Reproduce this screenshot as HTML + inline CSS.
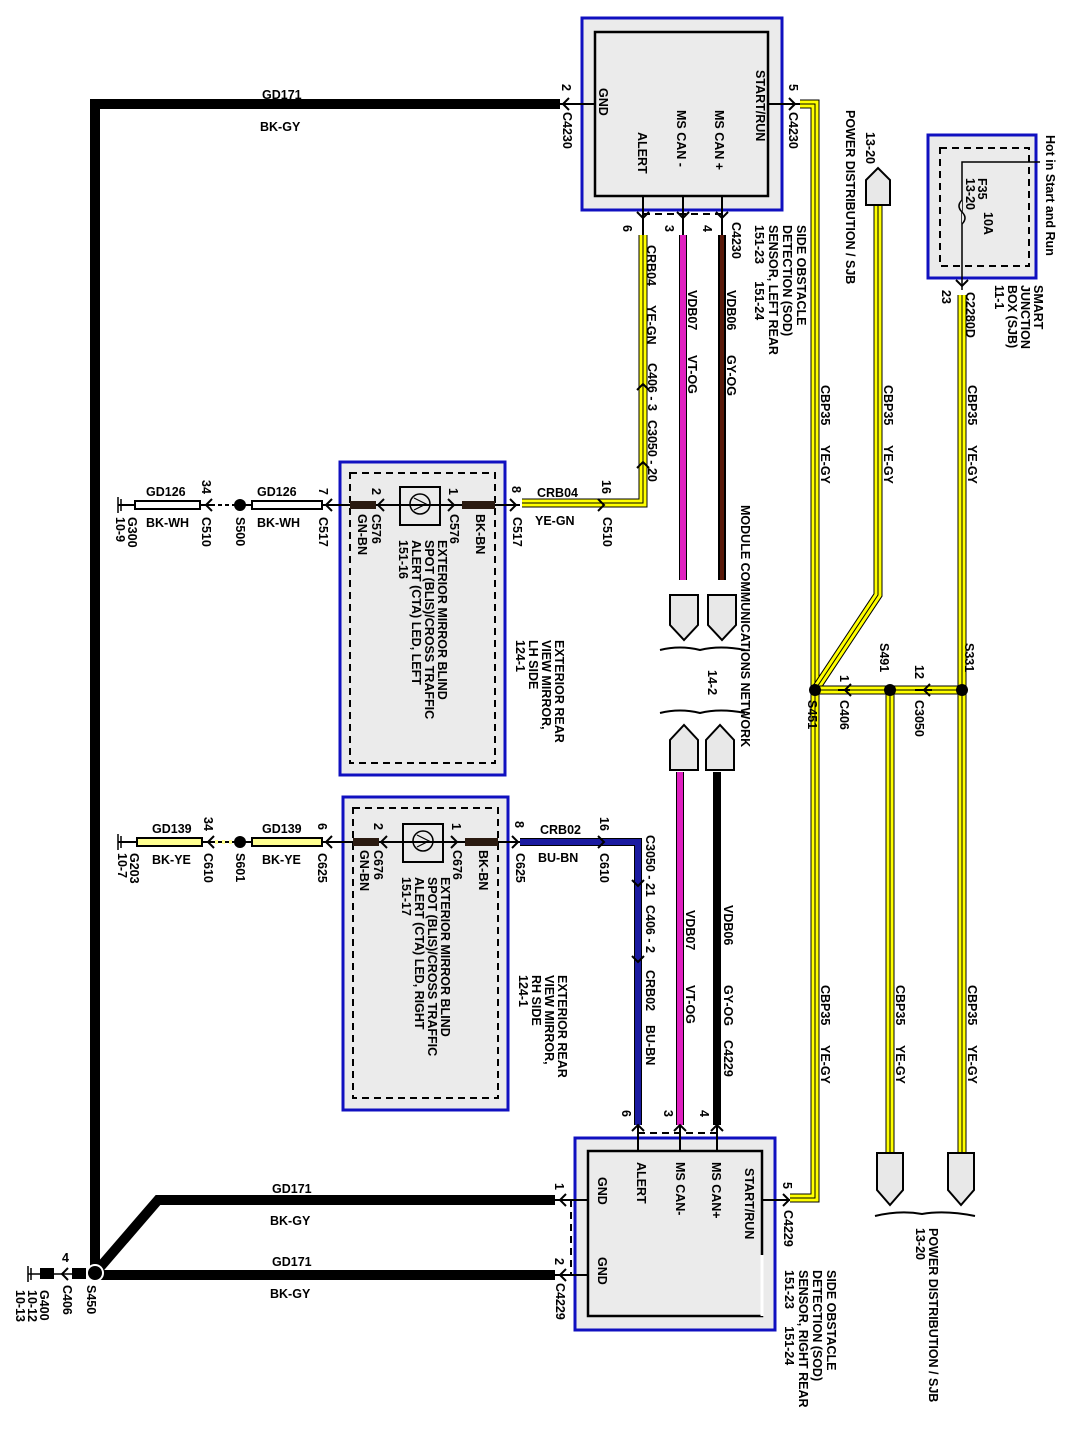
<!DOCTYPE html>
<html><head><meta charset="utf-8"><style>
html,body{margin:0;padding:0;background:#fff}
svg{display:block}
text{font-family:"Liberation Sans",Arial,sans-serif;font-size:12.5px;fill:#000;font-weight:bold}
.n{font-weight:bold}
.yo{stroke:#000;stroke-width:9;fill:none}
.yf{stroke:#ffff00;stroke-width:7;fill:none}
.yc{stroke:#000;stroke-width:1;fill:none}
.bk{stroke:#000;fill:none}
.box{fill:#ebebeb;stroke:#1010c0;stroke-width:3}
.ibox{fill:#ebebeb;stroke:#000;stroke-width:2.5}
.dash{fill:none;stroke:#000;stroke-width:2;stroke-dasharray:7 5}
.conn{fill:#e8e8e8;stroke:#000;stroke-width:2}
</style></head><body>
<svg width="1067" height="1445" viewBox="0 0 1067 1445" xmlns="http://www.w3.org/2000/svg">

<!-- Main ground wire -->
<path d="M560,104 H95 V1273" class="bk" stroke-width="10"/>
<path d="M555,1200 H158 L95,1273" class="bk" stroke-width="10"/>
<path d="M555,1275 H95" class="bk" stroke-width="10"/>
<circle cx="95" cy="1273" r="8" fill="#000" stroke="#fff" stroke-width="2"/>
<rect x="72" y="1268" width="14" height="11" fill="#000"/>
<line x1="40" y1="1274" x2="75" y2="1274" class="bk" stroke-width="1.5"/>
<rect x="40" y="1268" width="14" height="11" fill="#000"/>
<polyline points="68,1268 62,1274 68,1280" class="bk" stroke-width="2"/>
<line x1="28" y1="1266" x2="28" y2="1282" class="bk" stroke-width="1.5"/>
<line x1="31" y1="1268" x2="31" y2="1280" class="bk" stroke-width="1.5"/>
<line x1="28" y1="1274" x2="40" y2="1274" class="bk" stroke-width="1.5"/>
<text x="62" y="1262" class="n" font-size="11">4</text>
<text transform="translate(87,1285) rotate(90)" class="n">S450</text>
<text transform="translate(63,1285) rotate(90)" class="n">C406</text>
<text transform="translate(40,1290) rotate(90)" class="n" font-size="11">G400</text>
<text transform="translate(28,1290) rotate(90)" class="n" font-size="11">10-12</text>
<text transform="translate(16,1290) rotate(90)" class="n" font-size="11">10-13</text>

<text x="262" y="99" class="n">GD171</text><text x="260" y="131" class="n">BK-GY</text>
<text x="272" y="1193" class="n">GD171</text><text x="270" y="1225" class="n">BK-GY</text>
<text x="272" y="1266" class="n">GD171</text><text x="270" y="1298" class="n">BK-GY</text>

<!-- Top module -->
<rect x="582" y="18" width="200" height="192" class="box"/>
<rect x="595" y="32" width="173" height="164" class="ibox"/>
<text transform="translate(599,88) rotate(90)" font-size="13">GND</text>
<text transform="translate(756,70) rotate(90)" font-size="13">START/RUN</text>
<text transform="translate(715,110) rotate(90)" font-size="13">MS CAN +</text>
<text transform="translate(677,110) rotate(90)" font-size="13">MS CAN -</text>
<text transform="translate(638,132) rotate(90)" font-size="13">ALERT</text>
<line x1="595" y1="104" x2="560" y2="104" class="bk" stroke-width="2"/>
<polyline points="569,98 563,104 569,110" class="bk" stroke-width="2"/>
<text transform="translate(562,84) rotate(90)" class="n">2</text>
<text transform="translate(563,112) rotate(90)" class="n">C4230</text>
<line x1="768" y1="104" x2="805" y2="104" class="bk" stroke-width="2"/>
<polyline points="789,98 795,104 789,110" class="bk" stroke-width="2"/>
<text transform="translate(789,84) rotate(90)" class="n">5</text>
<text transform="translate(789,112) rotate(90)" class="n">C4230</text>
<g class="bk" stroke-width="2">
<line x1="643" y1="196" x2="643" y2="235"/><line x1="683" y1="196" x2="683" y2="235"/><line x1="722" y1="196" x2="722" y2="235"/>
<polyline points="637,212 643,218 649,212"/><polyline points="677,212 683,218 689,212"/><polyline points="716,212 722,218 728,212"/>
</g>
<line x1="643" y1="214" x2="722" y2="214" class="dash" stroke-width="2.5"/>
<text transform="translate(623,225) rotate(90)" class="n">6</text>
<text transform="translate(665,225) rotate(90)" class="n">3</text>
<text transform="translate(703,225) rotate(90)" class="n">4</text>
<text transform="translate(732,222) rotate(90)" class="n">C4230</text>
<text transform="translate(797,225) rotate(90)" class="n">SIDE OBSTACLE</text>
<text transform="translate(783,225) rotate(90)" class="n">DETECTION (SOD)</text>
<text transform="translate(769,225) rotate(90)" class="n">SENSOR, LEFT REAR</text>
<text transform="translate(755,225) rotate(90)" class="n">151-23&#160;&#160;&#160;&#160;&#160;151-24</text>

<!-- left-rear wires -->
<path d="M643,235 V503 H522" class="yo"/><path d="M643,235 V503 H522" class="yf"/><path d="M643,235 V503 H522" class="yc"/>
<polyline points="637,390 643,384 649,390" class="bk" stroke-width="2"/>
<polyline points="637,468 643,462 649,468" class="bk" stroke-width="2"/>
<line x1="683" y1="235" x2="683" y2="580" stroke="#000" stroke-width="8"/>
<line x1="683" y1="235" x2="683" y2="580" stroke="#e020c0" stroke-width="6"/>
<line x1="722" y1="235" x2="722" y2="580" stroke="#000" stroke-width="8"/>
<line x1="722" y1="235" x2="722" y2="580" stroke="#5a1a0a" stroke-width="4"/>
<text transform="translate(647,245) rotate(90)" class="n">CRB04</text>
<text transform="translate(647,305) rotate(90)" class="n">YE-GN</text>
<text transform="translate(648,363) rotate(90)" class="n">C406 - 3</text>
<text transform="translate(648,420) rotate(90)" class="n">C3050 - 20</text>
<text transform="translate(688,290) rotate(90)" class="n">VDB07</text>
<text transform="translate(688,355) rotate(90)" class="n">VT-OG</text>
<text transform="translate(727,290) rotate(90)" class="n">VDB06</text>
<text transform="translate(727,355) rotate(90)" class="n">GY-OG</text>

<!-- module comm network -->
<path d="M670,595 H698 V625 L684,640 L670,625 Z" class="conn"/>
<path d="M708,595 H736 V625 L722,640 L708,625 Z" class="conn"/>
<path d="M660,650 Q680,645 700,650 Q720,645 745,650" class="bk" stroke-width="2"/>
<text transform="translate(708,670) rotate(90)" class="n">14-2</text>
<path d="M660,713 Q680,708 700,713 Q720,708 745,713" class="bk" stroke-width="2"/>
<path d="M670,770 H698 V740 L684,725 L670,740 Z" class="conn"/>
<path d="M706,770 H734 V740 L720,725 L706,740 Z" class="conn"/>
<text transform="translate(741,505) rotate(90)" class="n">MODULE COMMUNICATIONS NETWORK</text>

<line x1="680" y1="772" x2="680" y2="1125" stroke="#000" stroke-width="8"/>
<line x1="680" y1="772" x2="680" y2="1125" stroke="#e020c0" stroke-width="6"/>
<line x1="717" y1="772" x2="717" y2="1125" stroke="#000" stroke-width="8"/>
<text transform="translate(686,910) rotate(90)" class="n">VDB07</text>
<text transform="translate(686,985) rotate(90)" class="n">VT-OG</text>
<text transform="translate(724,905) rotate(90)" class="n">VDB06</text>
<text transform="translate(724,985) rotate(90)" class="n">GY-OG</text>
<text transform="translate(724,1040) rotate(90)" class="n">C4229</text>

<!-- blue wire -->
<path d="M520,842 H638 V1125" stroke="#000" stroke-width="8" fill="none"/>
<path d="M520,842 H638 V1125" stroke="#1a1aa0" stroke-width="6" fill="none"/>
<polyline points="632,880 638,886 644,880" stroke="#000" stroke-width="2" fill="none"/>
<polyline points="632,956 638,962 644,956" stroke="#000" stroke-width="2" fill="none"/>
<text transform="translate(646,835) rotate(90)" class="n">C3050 - 21</text>
<text transform="translate(646,905) rotate(90)" class="n">C406 - 2</text>
<text transform="translate(646,970) rotate(90)" class="n">CRB02</text>
<text transform="translate(646,1025) rotate(90)" class="n">BU-BN</text>

<!-- bottom module -->
<rect x="575" y="1138" width="200" height="192" class="box"/>
<rect x="588" y="1151" width="174" height="165" class="ibox"/>
<line x1="762" y1="1255" x2="762" y2="1316" stroke="#fff" stroke-width="3"/>
<text transform="translate(598,1177) rotate(90)" font-size="13">GND</text>
<text transform="translate(598,1257) rotate(90)" font-size="13">GND</text>
<text transform="translate(637,1162) rotate(90)" font-size="13">ALERT</text>
<text transform="translate(676,1162) rotate(90)" font-size="13">MS CAN-</text>
<text transform="translate(712,1162) rotate(90)" font-size="13">MS CAN+</text>
<text transform="translate(745,1168) rotate(90)" font-size="13">START/RUN</text>
<g class="bk" stroke-width="2">
<line x1="638" y1="1125" x2="638" y2="1151"/><line x1="680" y1="1125" x2="680" y2="1151"/><line x1="717" y1="1125" x2="717" y2="1151"/>
<polyline points="632,1131 638,1125 644,1131"/><polyline points="674,1131 680,1125 686,1131"/><polyline points="711,1131 717,1125 723,1131"/>
<line x1="588" y1="1200" x2="555" y2="1200"/><line x1="588" y1="1275" x2="555" y2="1275"/>
<polyline points="566,1194 560,1200 566,1206"/><polyline points="566,1269 560,1275 566,1281"/>
<line x1="762" y1="1200" x2="790" y2="1200"/>
<polyline points="783,1194 789,1200 783,1206"/>
</g>
<line x1="638" y1="1133" x2="717" y2="1133" class="dash"/>
<line x1="571" y1="1200" x2="571" y2="1275" class="dash"/>
<text transform="translate(622,1110) rotate(90)" class="n">6</text>
<text transform="translate(664,1110) rotate(90)" class="n">3</text>
<text transform="translate(700,1110) rotate(90)" class="n">4</text>
<text transform="translate(555,1183) rotate(90)" class="n">1</text>
<text transform="translate(555,1258) rotate(90)" class="n">2</text>
<text transform="translate(556,1283) rotate(90)" class="n">C4229</text>
<text transform="translate(783,1182) rotate(90)" class="n">5</text>
<text transform="translate(784,1210) rotate(90)" class="n">C4229</text>
<text transform="translate(827,1270) rotate(90)" class="n">SIDE OBSTACLE</text>
<text transform="translate(813,1270) rotate(90)" class="n">DETECTION (SOD)</text>
<text transform="translate(799,1270) rotate(90)" class="n">SENSOR, RIGHT REAR</text>
<text transform="translate(785,1270) rotate(90)" class="n">151-23&#160;&#160;&#160;&#160;&#160;151-24</text>

<!-- yellow power wires -->
<g>
<path d="M800,104 H815 V1198 H790" class="yo"/><path d="M800,104 H815 V1198 H790" class="yf"/><path d="M800,104 H815 V1198 H790" class="yc"/>
<path d="M878,205 V595 L815,690" class="yo"/><path d="M878,205 V595 L815,690" class="yf"/><path d="M878,205 V595 L815,690" class="yc"/>
<path d="M962,295 V1153" class="yo"/><path d="M962,295 V1153" class="yf"/><path d="M962,295 V1153" class="yc"/>
<path d="M890,690 V1153" class="yo"/><path d="M890,690 V1153" class="yf"/><path d="M890,690 V1153" class="yc"/>
<path d="M815,690 H962" class="yo"/><path d="M815,690 H962" class="yf"/><path d="M815,690 H962" class="yc"/>
</g>
<line x1="838" y1="690" x2="850" y2="690" stroke="#000" stroke-width="2"/>
<polyline points="851,684 845,690 851,696" class="bk" stroke-width="2"/>
<line x1="915" y1="690" x2="932" y2="690" stroke="#000" stroke-width="2"/>
<polyline points="930,684 924,690 930,696" class="bk" stroke-width="2"/>
<circle cx="815" cy="690" r="6" fill="#000"/>
<circle cx="890" cy="690" r="6" fill="#000"/>
<circle cx="962" cy="690" r="6" fill="#000"/>
<text transform="translate(808,700) rotate(90)" class="n">S451</text>
<text transform="translate(840,675) rotate(90)" class="n">1</text>
<text transform="translate(840,700) rotate(90)" class="n">C406</text>
<text transform="translate(880,643) rotate(90)" class="n">S491</text>
<text transform="translate(915,665) rotate(90)" class="n">12</text>
<text transform="translate(915,700) rotate(90)" class="n">C3050</text>
<text transform="translate(965,643) rotate(90)" class="n">S331</text>

<text transform="translate(821,385) rotate(90)" class="n">CBP35</text>
<text transform="translate(821,445) rotate(90)" class="n">YE-GY</text>
<text transform="translate(884,385) rotate(90)" class="n">CBP35</text>
<text transform="translate(884,445) rotate(90)" class="n">YE-GY</text>
<text transform="translate(968,385) rotate(90)" class="n">CBP35</text>
<text transform="translate(968,445) rotate(90)" class="n">YE-GY</text>
<text transform="translate(821,985) rotate(90)" class="n">CBP35</text>
<text transform="translate(821,1045) rotate(90)" class="n">YE-GY</text>
<text transform="translate(896,985) rotate(90)" class="n">CBP35</text>
<text transform="translate(896,1045) rotate(90)" class="n">YE-GY</text>
<text transform="translate(968,985) rotate(90)" class="n">CBP35</text>
<text transform="translate(968,1045) rotate(90)" class="n">YE-GY</text>

<!-- top power dist -->
<text transform="translate(866,132) rotate(90)" class="n">13-20</text>
<text transform="translate(846,110) rotate(90)" class="n">POWER DISTRIBUTION / SJB</text>
<path d="M866,205 V180 L878,168 L890,180 V205 Z" class="conn"/>

<!-- SJB -->
<rect x="928" y="135" width="108" height="143" class="box"/>
<rect x="940" y="148" width="89" height="118" class="dash"/>
<path d="M1040,162 H962 V290" class="bk" stroke-width="1.5"/>
<path d="M962,200 q-6,6 0,12 q6,6 0,12" fill="#ebebeb" stroke="#000" stroke-width="1.5"/>
<text transform="translate(978,178) rotate(90)" class="n">F35</text>
<text transform="translate(966,178) rotate(90)" class="n">13-20</text>
<text transform="translate(984,212) rotate(90)" class="n">10A</text>
<polyline points="956,280 962,286 968,280" class="bk" stroke-width="2"/>
<text transform="translate(1046,135) rotate(90)" class="n">Hot in Start and Run</text>
<text transform="translate(1034,285) rotate(90)" class="n">SMART</text>
<text transform="translate(1021,285) rotate(90)" class="n">JUNCTION</text>
<text transform="translate(1008,285) rotate(90)" class="n">BOX (SJB)</text>
<text transform="translate(995,285) rotate(90)" class="n">11-1</text>
<text transform="translate(942,290) rotate(90)" class="n">23</text>
<text transform="translate(966,292) rotate(90)" class="n">C2280D</text>

<!-- bottom power dist -->
<path d="M877,1153 H903 V1190 L890,1205 L877,1190 Z" class="conn"/>
<path d="M948,1153 H974 V1190 L961,1205 L948,1190 Z" class="conn"/>
<path d="M875,1216 Q900,1210 922,1214 Q945,1210 975,1216" class="bk" stroke-width="2"/>
<text transform="translate(929,1228) rotate(90)" class="n">POWER DISTRIBUTION / SJB</text>
<text transform="translate(916,1228) rotate(90)" class="n">13-20</text>

<!-- LH mirror -->
<rect x="340" y="462" width="165" height="313" class="box"/>
<rect x="350" y="473" width="145" height="290" class="dash"/>
<line x1="118" y1="505" x2="520" y2="505" class="bk" stroke-width="2"/>
<rect x="135" y="501" width="65" height="8" fill="#fff" stroke="#000" stroke-width="2"/>
<rect x="252" y="501" width="70" height="8" fill="#fff" stroke="#000" stroke-width="2"/>
<line x1="215" y1="505" x2="235" y2="505" stroke="#fff" stroke-width="4" stroke-dasharray="3 4"/>
<circle cx="240" cy="505" r="6" fill="#000"/>
<rect x="350" y="501" width="26" height="8" fill="#2a1a10"/>
<rect x="462" y="501" width="33" height="8" fill="#2a1a10"/>
<rect x="400" y="487" width="40" height="38" fill="none" stroke="#000" stroke-width="2"/>
<circle cx="420" cy="504" r="10" fill="none" stroke="#000" stroke-width="1.5"/>
<polyline points="414,498 426,504 414,510 Z" fill="none" stroke="#000" stroke-width="1.2"/>
<polyline points="212,499 206,505 212,511" class="bk" stroke-width="2"/>
<polyline points="332,499 326,505 332,511" class="bk" stroke-width="2"/>
<polyline points="384,499 378,505 384,511" class="bk" stroke-width="2"/>
<polyline points="448,499 454,505 448,511" class="bk" stroke-width="2"/>
<polyline points="510,499 516,505 510,511" class="bk" stroke-width="2"/>
<line x1="118" y1="497" x2="118" y2="513" class="bk" stroke-width="1.5"/><line x1="121" y1="499" x2="121" y2="511" class="bk" stroke-width="1.5"/>
<text x="146" y="496" class="n">GD126</text><text x="146" y="527" class="n">BK-WH</text>
<text x="257" y="496" class="n">GD126</text><text x="257" y="527" class="n">BK-WH</text>
<text transform="translate(202,480) rotate(90)" class="n">34</text>
<text transform="translate(202,517) rotate(90)" class="n">C510</text>
<text transform="translate(236,517) rotate(90)" class="n">S500</text>
<text transform="translate(319,488) rotate(90)" class="n">7</text>
<text transform="translate(319,517) rotate(90)" class="n">C517</text>
<text transform="translate(128,517) rotate(90)" class="n">G300</text>
<text transform="translate(116,517) rotate(90)" class="n">10-9</text>
<text transform="translate(372,488) rotate(90)" class="n">2</text>
<text transform="translate(372,514) rotate(90)" class="n">C576</text>
<text transform="translate(358,514) rotate(90)" class="n">GN-BN</text>
<text transform="translate(449,488) rotate(90)" class="n">1</text>
<text transform="translate(450,514) rotate(90)" class="n">C576</text>
<text transform="translate(476,514) rotate(90)" class="n">BK-BN</text>
<text transform="translate(512,486) rotate(90)" class="n">8</text>
<text transform="translate(513,517) rotate(90)" class="n">C517</text>
<text x="537" y="497" class="n">CRB04</text><text x="535" y="525" class="n">YE-GN</text>
<text transform="translate(602,480) rotate(90)" class="n">16</text>
<text transform="translate(603,517) rotate(90)" class="n">C510</text>
<polyline points="598,499 604,505 598,511" class="bk" stroke-width="2"/>
<text transform="translate(438,540) rotate(90)" class="n">EXTERIOR MIRROR BLIND</text>
<text transform="translate(425,540) rotate(90)" class="n">SPOT (BLIS)/CROSS TRAFFIC</text>
<text transform="translate(412,540) rotate(90)" class="n">ALERT (CTA) LED, LEFT</text>
<text transform="translate(399,540) rotate(90)" class="n">151-16</text>
<text transform="translate(555,640) rotate(90)" class="n">EXTERIOR REAR</text>
<text transform="translate(542,640) rotate(90)" class="n">VIEW MIRROR,</text>
<text transform="translate(529,640) rotate(90)" class="n">LH SIDE</text>
<text transform="translate(516,640) rotate(90)" class="n">124-1</text>

<!-- RH mirror -->
<rect x="343" y="797" width="165" height="313" class="box"/>
<rect x="353" y="808" width="145" height="290" class="dash"/>
<line x1="118" y1="842" x2="520" y2="842" class="bk" stroke-width="2"/>
<rect x="137" y="838" width="65" height="8" fill="#ffff90" stroke="#000" stroke-width="2"/>
<rect x="252" y="838" width="70" height="8" fill="#ffff90" stroke="#000" stroke-width="2"/>
<line x1="215" y1="842" x2="235" y2="842" stroke="#ffff90" stroke-width="4" stroke-dasharray="3 4"/>
<circle cx="240" cy="842" r="6" fill="#000"/>
<rect x="353" y="838" width="26" height="8" fill="#2a1a10"/>
<rect x="465" y="838" width="33" height="8" fill="#2a1a10"/>
<rect x="403" y="824" width="40" height="38" fill="none" stroke="#000" stroke-width="2"/>
<circle cx="423" cy="841" r="10" fill="none" stroke="#000" stroke-width="1.5"/>
<polyline points="417,835 429,841 417,847 Z" fill="none" stroke="#000" stroke-width="1.2"/>
<polyline points="214,836 208,842 214,848" class="bk" stroke-width="2"/>
<polyline points="332,836 326,842 332,848" class="bk" stroke-width="2"/>
<polyline points="387,836 381,842 387,848" class="bk" stroke-width="2"/>
<polyline points="451,836 457,842 451,848" class="bk" stroke-width="2"/>
<polyline points="512,836 518,842 512,848" class="bk" stroke-width="2"/>
<polyline points="598,836 604,842 598,848" class="bk" stroke-width="2"/>
<line x1="118" y1="834" x2="118" y2="850" class="bk" stroke-width="1.5"/><line x1="121" y1="836" x2="121" y2="848" class="bk" stroke-width="1.5"/>
<text x="152" y="833" class="n">GD139</text><text x="152" y="864" class="n">BK-YE</text>
<text x="262" y="833" class="n">GD139</text><text x="262" y="864" class="n">BK-YE</text>
<text transform="translate(204,817) rotate(90)" class="n">34</text>
<text transform="translate(204,853) rotate(90)" class="n">C610</text>
<text transform="translate(236,853) rotate(90)" class="n">S601</text>
<text transform="translate(318,823) rotate(90)" class="n">6</text>
<text transform="translate(318,853) rotate(90)" class="n">C625</text>
<text transform="translate(130,853) rotate(90)" class="n">G203</text>
<text transform="translate(118,853) rotate(90)" class="n">10-7</text>
<text transform="translate(374,823) rotate(90)" class="n">2</text>
<text transform="translate(374,850) rotate(90)" class="n">C676</text>
<text transform="translate(360,850) rotate(90)" class="n">GN-BN</text>
<text transform="translate(452,823) rotate(90)" class="n">1</text>
<text transform="translate(453,850) rotate(90)" class="n">C676</text>
<text transform="translate(479,850) rotate(90)" class="n">BK-BN</text>
<text transform="translate(515,821) rotate(90)" class="n">8</text>
<text transform="translate(516,853) rotate(90)" class="n">C625</text>
<text x="540" y="834" class="n">CRB02</text><text x="538" y="862" class="n">BU-BN</text>
<text transform="translate(600,817) rotate(90)" class="n">16</text>
<text transform="translate(600,853) rotate(90)" class="n">C610</text>
<text transform="translate(441,877) rotate(90)" class="n">EXTERIOR MIRROR BLIND</text>
<text transform="translate(428,877) rotate(90)" class="n">SPOT (BLIS)/CROSS TRAFFIC</text>
<text transform="translate(415,877) rotate(90)" class="n">ALERT (CTA) LED, RIGHT</text>
<text transform="translate(402,877) rotate(90)" class="n">151-17</text>
<text transform="translate(558,975) rotate(90)" class="n">EXTERIOR REAR</text>
<text transform="translate(545,975) rotate(90)" class="n">VIEW MIRROR,</text>
<text transform="translate(532,975) rotate(90)" class="n">RH SIDE</text>
<text transform="translate(519,975) rotate(90)" class="n">124-1</text>
</svg>
</body></html>
